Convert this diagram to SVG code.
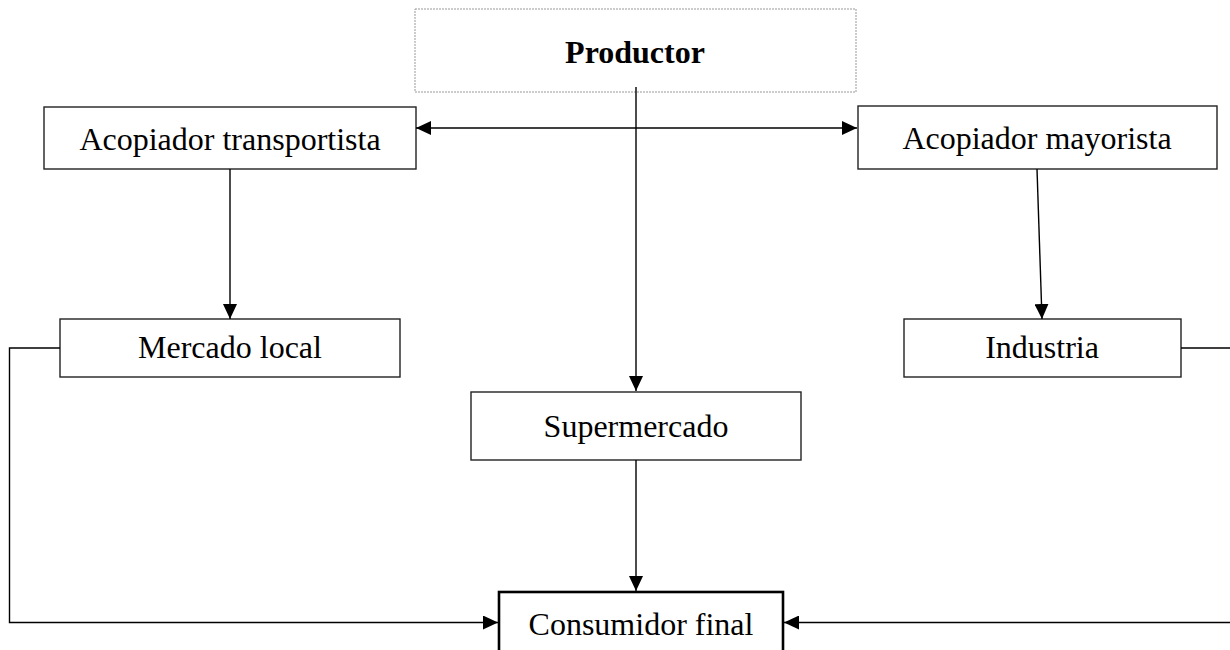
<svg xmlns="http://www.w3.org/2000/svg" width="1230" height="650" viewBox="0 0 1230 650">
<defs>
<style>
.box{fill:#fff;stroke:#222;stroke-width:1.4}
.lbl{font-family:"Liberation Serif","Times New Roman",serif;font-size:32px;fill:#000;text-anchor:middle}
.conn{fill:none;stroke:#000;stroke-width:1.4}
</style>
<marker id="ah" viewBox="0 0 15 14" refX="15" refY="7" markerWidth="15" markerHeight="14" markerUnits="userSpaceOnUse" orient="auto-start-reverse">
<path d="M0,0 L15,7 L0,14 z" fill="#000"/>
</marker>
</defs>
<rect width="1230" height="650" fill="#fff"/>
<g id="productor">
<rect x="415" y="9" width="441" height="83" fill="#fff" stroke="#999" stroke-width="1" stroke-dasharray="2,1"/>
<text class="lbl" x="635" y="63" font-weight="bold">Productor</text>
</g>
<g id="acopiador-transportista">
<rect class="box" x="44" y="107" width="372" height="62"/>
<text class="lbl" x="230" y="150">Acopiador transportista</text>
</g>
<g id="acopiador-mayorista">
<rect class="box" x="858" y="106" width="359" height="63"/>
<text class="lbl" x="1037" y="149">Acopiador mayorista</text>
</g>
<g id="mercado-local">
<rect class="box" x="60" y="319" width="340" height="58"/>
<text class="lbl" x="230" y="358">Mercado local</text>
</g>
<g id="industria">
<rect class="box" x="904" y="319" width="277" height="58"/>
<text class="lbl" x="1042" y="358">Industria</text>
</g>
<g id="supermercado">
<rect class="box" x="471" y="392" width="330" height="68"/>
<text class="lbl" x="636" y="437">Supermercado</text>
</g>
<g id="consumidor-final">
<rect x="499" y="592" width="284" height="80" fill="#fff" stroke="#000" stroke-width="2.6"/>
<text class="lbl" x="641" y="635">Consumidor final</text>
</g>
<g id="connectors">
<line class="conn" x1="416" y1="128" x2="857" y2="128" marker-start="url(#ah)" marker-end="url(#ah)"/>
<line class="conn" x1="636" y1="87" x2="636" y2="391" marker-end="url(#ah)"/>
<line class="conn" x1="230" y1="169" x2="230" y2="319" marker-end="url(#ah)"/>
<line class="conn" x1="1037" y1="169" x2="1042" y2="319" marker-end="url(#ah)"/>
<line class="conn" x1="636" y1="460" x2="636" y2="591" marker-end="url(#ah)"/>
<polyline class="conn" points="60,348 9.5,348 9.5,622.5 498,622.5" marker-end="url(#ah)"/>
<polyline class="conn" points="1181,348 1240,348 1240,622.5 784,622.5" marker-end="url(#ah)"/>
</g>
</svg>
